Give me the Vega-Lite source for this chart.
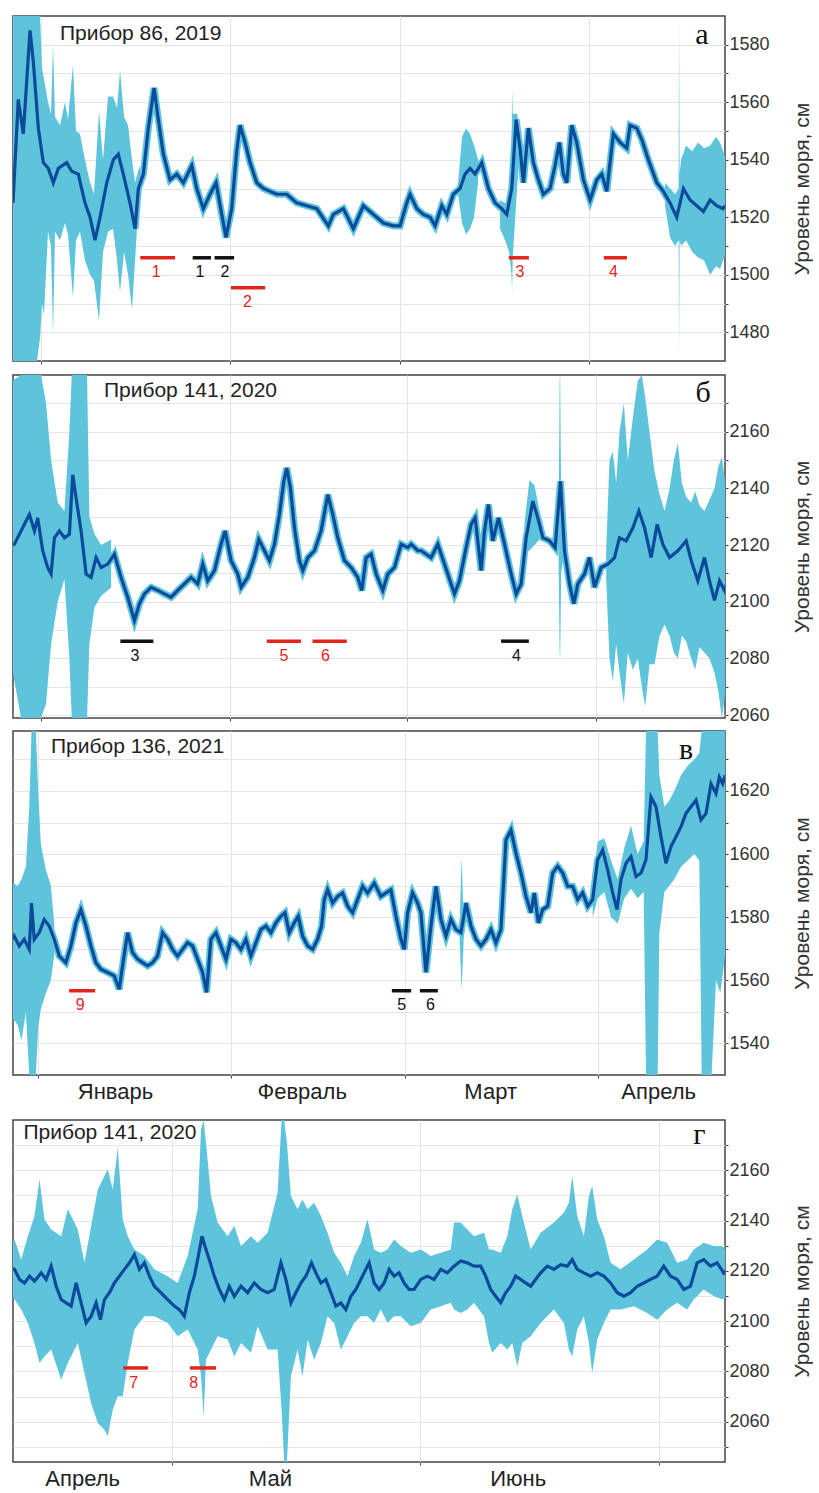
{
"$schema": "https://vega.github.io/schema/vega-lite/v6.json",
"padding": {"left": 12, "top": 15, "right": 0, "bottom": 0},
"config": {
  "font": "Liberation Sans",
  "view": {"stroke": "#444444", "strokeWidth": 1.5},
  "axis": {"domain": false, "gridColor": "#e4e4e4", "gridWidth": 1, "tickColor": "#444444", "tickSize": 3, "tickWidth": 1, "labelColor": "#333333", "labelFont": "Liberation Sans", "titleFont": "Liberation Sans", "titleFontWeight": "normal", "titleColor": "#333333", "labelFlush": false, "labelOverlap": false, "labelFontSize": 18, "labelPadding": 1, "titleFontSize": 21, "titleAngle": 270, "titleBaseline": "top", "titlePadding": 22}
},
"datasets": {
"a_mid": [{"d":-4.6,"v":1525},{"d":-3.73,"v":1561},{"d":-2.91,"v":1549},{"d":-1.81,"v":1585},{"d":-1.26,"v":1574},{"d":-0.44,"v":1551},{"d":0.38,"v":1539},{"d":1.2,"v":1537},{"d":2.02,"v":1532},{"d":2.84,"v":1537},{"d":4.22,"v":1539},{"d":5.04,"v":1536},{"d":6.12,"v":1535},{"d":7.22,"v":1525},{"d":8.05,"v":1520},{"d":8.87,"v":1512},{"d":9.69,"v":1520},{"d":10.79,"v":1532},{"d":11.87,"v":1540},{"d":12.69,"v":1542},{"d":13.51,"v":1535},{"d":14.61,"v":1525},{"d":15.44,"v":1516},{"d":15.98,"v":1530},{"d":16.8,"v":1535},{"d":17.62,"v":1551},{"d":18.56,"v":1565},{"d":19.26,"v":1554},{"d":20.08,"v":1542},{"d":21.18,"v":1533},{"d":22.28,"v":1535},{"d":23.37,"v":1532},{"d":24.75,"v":1538},{"d":25.57,"v":1530},{"d":26.65,"v":1523},{"d":27.75,"v":1528},{"d":28.74,"v":1532},{"d":29.67,"v":1521},{"d":30.38,"v":1513},{"d":31.31,"v":1523},{"d":32.13,"v":1543},{"d":32.68,"v":1552},{"d":33.5,"v":1546},{"d":34.32,"v":1539},{"d":35.42,"v":1532},{"d":36.5,"v":1530},{"d":37.6,"v":1529},{"d":38.7,"v":1528},{"d":40.34,"v":1528},{"d":41.99,"v":1525},{"d":43.63,"v":1524},{"d":45.27,"v":1523},{"d":47.18,"v":1517},{"d":48.0,"v":1521},{"d":49.64,"v":1523},{"d":51.28,"v":1516},{"d":52.92,"v":1524},{"d":54.56,"v":1521},{"d":56.21,"v":1518},{"d":57.85,"v":1517},{"d":58.95,"v":1517},{"d":60.05,"v":1525},{"d":60.59,"v":1528},{"d":61.69,"v":1523},{"d":62.77,"v":1521},{"d":63.88,"v":1520},{"d":64.7,"v":1517},{"d":65.8,"v":1524},{"d":66.62,"v":1521},{"d":67.7,"v":1528},{"d":68.8,"v":1530},{"d":69.62,"v":1535},{"d":70.44,"v":1537},{"d":71.26,"v":1535},{"d":72.36,"v":1539},{"d":73.45,"v":1530},{"d":74.55,"v":1525},{"d":75.65,"v":1523},{"d":76.47,"v":1521},{"d":77.29,"v":1530},{"d":78.0,"v":1554},{"d":78.65,"v":1544},{"d":79.2,"v":1532},{"d":80.02,"v":1551},{"d":80.84,"v":1539},{"d":81.66,"v":1533},{"d":82.48,"v":1528},{"d":83.58,"v":1530},{"d":84.4,"v":1538},{"d":85.11,"v":1546},{"d":85.76,"v":1535},{"d":86.32,"v":1532},{"d":87.14,"v":1552},{"d":87.96,"v":1546},{"d":89.05,"v":1533},{"d":90.15,"v":1526},{"d":91.25,"v":1533},{"d":92.07,"v":1535},{"d":92.89,"v":1529},{"d":93.97,"v":1549},{"d":95.07,"v":1546},{"d":96.17,"v":1544},{"d":96.72,"v":1552},{"d":97.82,"v":1551},{"d":98.64,"v":1547},{"d":99.72,"v":1540},{"d":101.1,"v":1532},{"d":102.18,"v":1529},{"d":103.28,"v":1525},{"d":104.38,"v":1520},{"d":105.47,"v":1530},{"d":106.57,"v":1526},{"d":107.67,"v":1524},{"d":108.75,"v":1522},{"d":109.85,"v":1526},{"d":110.95,"v":1524},{"d":111.94,"v":1523},{"d":112.3,"v":1524}],
"a_env": [{"g":1,"d":-4.8,"v":1470,"v2":1590},{"g":1,"d":-0.66,"v":1470,"v2":1590},{"g":1,"d":-0.16,"v":1478,"v2":1590},{"g":1,"d":0.16,"v":1490,"v2":1572},{"g":1,"d":0.49,"v":1486,"v2":1568},{"g":1,"d":1.15,"v":1515,"v2":1560},{"g":1,"d":1.64,"v":1510,"v2":1556},{"g":1,"d":1.97,"v":1479,"v2":1580},{"g":1,"d":2.3,"v":1515,"v2":1555},{"g":1,"d":3.12,"v":1512,"v2":1552},{"g":1,"d":3.94,"v":1518,"v2":1560},{"g":1,"d":4.43,"v":1514,"v2":1554},{"g":1,"d":5.25,"v":1492,"v2":1573},{"g":1,"d":5.75,"v":1512,"v2":1550},{"g":1,"d":6.4,"v":1515,"v2":1549},{"g":1,"d":7.22,"v":1505,"v2":1540},{"g":1,"d":8.05,"v":1500,"v2":1532},{"g":1,"d":8.7,"v":1498,"v2":1528},{"g":1,"d":9.52,"v":1484,"v2":1557},{"g":1,"d":10.18,"v":1508,"v2":1540},{"g":1,"d":11.0,"v":1515,"v2":1562},{"g":1,"d":11.82,"v":1516,"v2":1562},{"g":1,"d":12.48,"v":1505,"v2":1558},{"g":1,"d":12.97,"v":1494,"v2":1571},{"g":1,"d":13.63,"v":1508,"v2":1555},{"g":1,"d":14.29,"v":1500,"v2":1552},{"g":1,"d":14.94,"v":1488,"v2":1540},{"g":1,"d":15.44,"v":1505,"v2":1532},{"g":1,"d":15.93,"v":1522,"v2":1536},{"g":1,"d":16.26,"v":1528,"v2":1538},
{"g":2,"d":68.47,"v":1528,"v2":1532},{"g":2,"d":69.13,"v":1518,"v2":1548},{"g":2,"d":69.79,"v":1514,"v2":1551},{"g":2,"d":70.44,"v":1516,"v2":1549},{"g":2,"d":71.1,"v":1520,"v2":1545},{"g":2,"d":71.76,"v":1532,"v2":1540},
{"g":3,"d":75.37,"v":1516,"v2":1526},{"g":3,"d":76.19,"v":1512,"v2":1525},{"g":3,"d":76.85,"v":1508,"v2":1526},{"g":3,"d":77.25,"v":1500,"v2":1540},{"g":3,"d":77.34,"v":1494,"v2":1565},{"g":3,"d":77.45,"v":1506,"v2":1556},{"g":3,"d":78.16,"v":1530,"v2":1556},{"g":3,"d":78.5,"v":1540,"v2":1552},
{"g":4,"d":102.46,"v":1524,"v2":1532},{"g":4,"d":103.28,"v":1513,"v2":1530},{"g":4,"d":104.1,"v":1510,"v2":1528},{"g":4,"d":104.68,"v":1512,"v2":1530},{"g":4,"d":104.76,"v":1473,"v2":1589},{"g":4,"d":104.84,"v":1512,"v2":1535},{"g":4,"d":105.09,"v":1510,"v2":1540},{"g":4,"d":105.9,"v":1512,"v2":1545},{"g":4,"d":106.9,"v":1508,"v2":1543},{"g":4,"d":107.88,"v":1506,"v2":1546},{"g":4,"d":108.87,"v":1505,"v2":1544},{"g":4,"d":109.85,"v":1500,"v2":1545},{"g":4,"d":110.84,"v":1503,"v2":1548},{"g":4,"d":111.49,"v":1502,"v2":1546},{"g":4,"d":112.5,"v":1508,"v2":1540}],
"a_seg": [{"d":16.3,"d2":22.0,"v":1505.9,"c":"r"},{"d":24.9,"d2":27.9,"v":1505.9,"c":"k"},{"d":28.5,"d2":31.7,"v":1505.9,"c":"k"},{"d":31.2,"d2":36.8,"v":1495.5,"c":"r"},{"d":76.8,"d2":80.1,"v":1505.9,"c":"r"},{"d":92.4,"d2":96.2,"v":1505.9,"c":"r"}],
"a_lab": [{"d":18.9,"v":1505.9,"t":"1","c":"r"},{"d":26.1,"v":1505.9,"t":"1","c":"k"},{"d":30.2,"v":1505.9,"t":"2","c":"k"},{"d":33.9,"v":1495.5,"t":"2","c":"r"},{"d":78.65,"v":1505.9,"t":"3","c":"r"},{"d":94.0,"v":1505.9,"t":"4","c":"r"}],
"b_mid": [{"d":-4.6,"v":2120},{"d":-4.37,"v":2120.3},{"d":-3.55,"v":2123.8},{"d":-2.46,"v":2128.5},{"d":-1.91,"v":2130.8},{"d":-1.09,"v":2125},{"d":-0.55,"v":2129.6},{"d":0.27,"v":2118},{"d":1.09,"v":2112},{"d":1.64,"v":2109.8},{"d":2.19,"v":2122.6},{"d":3.0,"v":2125},{"d":3.83,"v":2122.6},{"d":4.64,"v":2123.8},{"d":5.19,"v":2144.8},{"d":5.74,"v":2136.6},{"d":6.56,"v":2125},{"d":7.38,"v":2109.8},{"d":8.2,"v":2108.6},{"d":9.02,"v":2115.6},{"d":9.84,"v":2112.1},{"d":10.93,"v":2113.3},{"d":12.02,"v":2116.8},{"d":13.11,"v":2108.6},{"d":14.2,"v":2101.6},{"d":15.3,"v":2093.4},{"d":16.12,"v":2099.3},{"d":16.94,"v":2102.8},{"d":18.03,"v":2105.1},{"d":19.13,"v":2104},{"d":20.22,"v":2102.8},{"d":21.31,"v":2101.6},{"d":22.4,"v":2104},{"d":23.5,"v":2106.3},{"d":24.59,"v":2108.6},{"d":25.68,"v":2106.3},{"d":26.5,"v":2113.3},{"d":27.32,"v":2107.4},{"d":28.42,"v":2111},{"d":29.5,"v":2120.3},{"d":30.16,"v":2125},{"d":31.15,"v":2114.5},{"d":32.24,"v":2109.8},{"d":32.79,"v":2105.1},{"d":33.88,"v":2108.6},{"d":34.97,"v":2115.6},{"d":35.68,"v":2122},{"d":36.61,"v":2118},{"d":37.43,"v":2114.5},{"d":38.25,"v":2120.3},{"d":39.07,"v":2130.8},{"d":39.78,"v":2142.5},{"d":40.27,"v":2147.2},{"d":40.87,"v":2140.2},{"d":41.53,"v":2126.1},{"d":42.35,"v":2114.5},{"d":42.9,"v":2111},{"d":43.72,"v":2115.6},{"d":44.81,"v":2118},{"d":45.9,"v":2125},{"d":47.0,"v":2137.8},{"d":47.81,"v":2130.8},{"d":48.63,"v":2122.6},{"d":49.73,"v":2114.5},{"d":50.82,"v":2112.1},{"d":51.91,"v":2108.6},{"d":52.57,"v":2104},{"d":53.28,"v":2115.6},{"d":54.1,"v":2116.8},{"d":54.92,"v":2109.8},{"d":56.01,"v":2104},{"d":56.83,"v":2109.8},{"d":57.92,"v":2112.1},{"d":59.02,"v":2120.3},{"d":60.11,"v":2119.1},{"d":60.66,"v":2120.3},{"d":61.75,"v":2118},{"d":62.3,"v":2118},{"d":63.93,"v":2115.6},{"d":65.03,"v":2120.3},{"d":66.12,"v":2113.3},{"d":67.21,"v":2106.3},{"d":67.76,"v":2102.8},{"d":68.58,"v":2107.4},{"d":69.67,"v":2119.1},{"d":70.49,"v":2127.3},{"d":71.15,"v":2129.6},{"d":72.13,"v":2111},{"d":72.68,"v":2125},{"d":73.33,"v":2134.3},{"d":74.04,"v":2121.5},{"d":74.97,"v":2129.6},{"d":75.96,"v":2120.3},{"d":77.05,"v":2109.8},{"d":77.87,"v":2102.8},{"d":78.69,"v":2106.3},{"d":79.51,"v":2122.6},{"d":80.6,"v":2135.5},{"d":81.42,"v":2129.6},{"d":82.24,"v":2122.6},{"d":83.33,"v":2121.5},{"d":84.26,"v":2119.1},{"d":85.14,"v":2142.5},{"d":85.79,"v":2118},{"d":86.61,"v":2106.3},{"d":87.32,"v":2099.3},{"d":87.98,"v":2106.3},{"d":89.07,"v":2109.8},{"d":89.89,"v":2115.6},{"d":90.71,"v":2105.1},{"d":91.8,"v":2112.1},{"d":92.9,"v":2113.3},{"d":93.99,"v":2115.6},{"d":94.81,"v":2122.6},{"d":95.9,"v":2121.5},{"d":97.0,"v":2126.1},{"d":97.98,"v":2132},{"d":98.91,"v":2126.1},{"d":100.0,"v":2115.6},{"d":100.98,"v":2127.3},{"d":101.91,"v":2120.3},{"d":103.01,"v":2115.6},{"d":104.37,"v":2118},{"d":105.74,"v":2121.5},{"d":106.56,"v":2114.5},{"d":107.65,"v":2107.4},{"d":108.74,"v":2115.6},{"d":109.56,"v":2107.4},{"d":110.38,"v":2100.5},{"d":111.2,"v":2107.4},{"d":112.02,"v":2104},{"d":112.3,"v":2106}],
"b_env": [{"g":1,"d":-4.7,"v":2076,"v2":2178},{"g":1,"d":-3.28,"v":2059,"v2":2180},{"g":1,"d":0,"v":2059,"v2":2180},{"g":1,"d":0.82,"v":2064,"v2":2170},{"g":1,"d":1.64,"v":2085,"v2":2150},{"g":1,"d":2.73,"v":2100,"v2":2135},{"g":1,"d":3.83,"v":2108,"v2":2132},{"g":1,"d":4.64,"v":2080,"v2":2160},{"g":1,"d":5.03,"v":2059,"v2":2180},{"g":1,"d":7.54,"v":2059,"v2":2180},{"g":1,"d":7.92,"v":2085,"v2":2130},{"g":1,"d":8.74,"v":2098,"v2":2124},{"g":1,"d":9.84,"v":2102,"v2":2120},{"g":1,"d":11.48,"v":2105,"v2":2122},
{"g":2,"d":79.24,"v":2118,"v2":2128},{"g":2,"d":80.05,"v":2118,"v2":2143},{"g":2,"d":80.87,"v":2120,"v2":2141},{"g":2,"d":81.69,"v":2122,"v2":2132},
{"g":3,"d":84.81,"v":2117,"v2":2123},{"g":3,"d":85.0,"v":2082,"v2":2178},{"g":3,"d":85.08,"v":2080,"v2":2180},{"g":3,"d":85.25,"v":2110,"v2":2135},{"g":3,"d":85.57,"v":2115,"v2":2122},
{"g":4,"d":92.62,"v":2108,"v2":2118},{"g":4,"d":93.17,"v":2080,"v2":2150},{"g":4,"d":93.72,"v":2072,"v2":2153},{"g":4,"d":94.26,"v":2085,"v2":2142},{"g":4,"d":94.81,"v":2075,"v2":2160},{"g":4,"d":95.52,"v":2064,"v2":2170},{"g":4,"d":96.17,"v":2082,"v2":2150},{"g":4,"d":97.0,"v":2076,"v2":2165},{"g":4,"d":97.81,"v":2080,"v2":2178},{"g":4,"d":98.47,"v":2070,"v2":2180},{"g":4,"d":99.02,"v":2063,"v2":2172},{"g":4,"d":99.73,"v":2078,"v2":2160},{"g":4,"d":100.55,"v":2078,"v2":2146},{"g":4,"d":101.37,"v":2088,"v2":2138},{"g":4,"d":102.19,"v":2092,"v2":2132},{"g":4,"d":103.01,"v":2088,"v2":2140},{"g":4,"d":103.72,"v":2082,"v2":2150},{"g":4,"d":104.37,"v":2080,"v2":2156},{"g":4,"d":105.03,"v":2088,"v2":2142},{"g":4,"d":105.74,"v":2086,"v2":2137},{"g":4,"d":106.56,"v":2080,"v2":2135},{"g":4,"d":107.21,"v":2076,"v2":2139},{"g":4,"d":107.92,"v":2084,"v2":2134},{"g":4,"d":108.74,"v":2082,"v2":2132},{"g":4,"d":109.56,"v":2080,"v2":2136},{"g":4,"d":110.38,"v":2075,"v2":2140},{"g":4,"d":111.04,"v":2068,"v2":2148},{"g":4,"d":111.58,"v":2059,"v2":2151},{"g":4,"d":112.3,"v":2070,"v2":2140}],
"b_seg": [{"d":13.0,"d2":18.4,"v":2086.1,"c":"k"},{"d":37.0,"d2":42.6,"v":2086.1,"c":"r"},{"d":44.5,"d2":50.1,"v":2086.1,"c":"r"},{"d":75.4,"d2":79.95,"v":2086.1,"c":"k"}],
"b_lab": [{"d":15.4,"v":2086.1,"t":"3","c":"k"},{"d":39.8,"v":2086.1,"t":"5","c":"r"},{"d":46.6,"v":2086.1,"t":"6","c":"r"},{"d":77.9,"v":2086.1,"t":"4","c":"k"}],
"c_mid": [{"d":-4.0,"v":1573},{"d":-3.8,"v":1574},{"d":-3.0,"v":1570.9},{"d":-2.2,"v":1573},{"d":-1.39,"v":1569.8},{"d":-1.02,"v":1584.5},{"d":-0.59,"v":1573},{"d":0.21,"v":1575.1},{"d":1.02,"v":1579.3},{"d":1.82,"v":1577.2},{"d":2.63,"v":1573},{"d":3.43,"v":1567.7},{"d":4.5,"v":1565.6},{"d":5.31,"v":1570.9},{"d":6.11,"v":1578.2},{"d":6.91,"v":1582.4},{"d":7.72,"v":1577.2},{"d":8.52,"v":1570.9},{"d":9.32,"v":1565.6},{"d":10.13,"v":1563.5},{"d":11.2,"v":1562.5},{"d":12.27,"v":1561.4},{"d":13.08,"v":1557.2},{"d":13.61,"v":1564.6},{"d":14.42,"v":1575.1},{"d":15.22,"v":1568.8},{"d":16.02,"v":1566.7},{"d":16.83,"v":1565.6},{"d":17.63,"v":1564.6},{"d":18.44,"v":1565.6},{"d":19.24,"v":1567.7},{"d":20.04,"v":1575.1},{"d":20.85,"v":1573},{"d":21.65,"v":1569.8},{"d":22.45,"v":1567.7},{"d":23.26,"v":1569.8},{"d":24.06,"v":1571.9},{"d":24.86,"v":1570.9},{"d":25.67,"v":1566.7},{"d":26.47,"v":1562.5},{"d":27.12,"v":1556.2},{"d":27.81,"v":1573},{"d":28.62,"v":1575.1},{"d":29.42,"v":1570.9},{"d":30.23,"v":1566.7},{"d":31.03,"v":1573},{"d":31.83,"v":1571.9},{"d":32.64,"v":1569.8},{"d":33.44,"v":1573},{"d":34.24,"v":1567.7},{"d":35.05,"v":1571.9},{"d":35.85,"v":1576.1},{"d":36.65,"v":1577.2},{"d":37.46,"v":1575.1},{"d":38.26,"v":1578.2},{"d":39.07,"v":1580.3},{"d":39.71,"v":1581.4},{"d":40.41,"v":1575.1},{"d":41.21,"v":1578.2},{"d":41.86,"v":1580.3},{"d":42.55,"v":1574},{"d":43.36,"v":1570.9},{"d":44.16,"v":1569.8},{"d":44.96,"v":1573},{"d":45.61,"v":1577.2},{"d":46.03,"v":1585.6},{"d":46.57,"v":1588.7},{"d":47.37,"v":1584.5},{"d":48.18,"v":1586.6},{"d":48.98,"v":1587.7},{"d":49.79,"v":1583.5},{"d":50.59,"v":1581.4},{"d":51.39,"v":1585.6},{"d":52.2,"v":1589.8},{"d":53.0,"v":1587.7},{"d":54.07,"v":1590.8},{"d":55.14,"v":1586.6},{"d":55.95,"v":1587.7},{"d":56.75,"v":1588.7},{"d":57.56,"v":1580.3},{"d":58.36,"v":1573},{"d":58.9,"v":1569.8},{"d":59.43,"v":1581.4},{"d":60.23,"v":1587.7},{"d":61.04,"v":1584.5},{"d":61.57,"v":1581.4},{"d":62.38,"v":1562.5},{"d":63.18,"v":1577.2},{"d":63.99,"v":1589.8},{"d":64.79,"v":1579.3},{"d":65.6,"v":1574},{"d":66.4,"v":1579.3},{"d":67.2,"v":1576.1},{"d":68.01,"v":1575.1},{"d":68.81,"v":1584.5},{"d":69.62,"v":1577.2},{"d":70.42,"v":1573},{"d":71.22,"v":1570.9},{"d":72.03,"v":1573},{"d":72.83,"v":1576.1},{"d":73.63,"v":1571.9},{"d":74.44,"v":1576.1},{"d":75.24,"v":1604.5},{"d":76.05,"v":1607.6},{"d":76.85,"v":1600.3},{"d":77.65,"v":1594},{"d":78.46,"v":1586.6},{"d":79.26,"v":1581.4},{"d":79.8,"v":1587.7},{"d":80.44,"v":1578.2},{"d":81.14,"v":1582.4},{"d":81.95,"v":1583.5},{"d":82.75,"v":1594},{"d":83.55,"v":1596.1},{"d":84.36,"v":1594},{"d":85.16,"v":1589.8},{"d":85.96,"v":1589.8},{"d":86.77,"v":1585.6},{"d":87.57,"v":1587.7},{"d":88.38,"v":1583.5},{"d":89.18,"v":1585.6},{"d":89.98,"v":1598.2},{"d":90.79,"v":1601.3},{"d":91.59,"v":1595},{"d":92.4,"v":1587.7},{"d":93.09,"v":1582.4},{"d":93.73,"v":1591.9},{"d":94.54,"v":1597.1},{"d":95.34,"v":1599.2},{"d":96.14,"v":1592.9},{"d":96.95,"v":1594},{"d":97.75,"v":1598.2},{"d":98.55,"v":1618.1},{"d":99.36,"v":1615},{"d":100.16,"v":1605.5},{"d":100.96,"v":1597.1},{"d":101.77,"v":1602.4},{"d":102.57,"v":1605.5},{"d":103.38,"v":1608.7},{"d":104.18,"v":1612.9},{"d":104.98,"v":1615},{"d":105.79,"v":1617.1},{"d":106.59,"v":1610.8},{"d":107.4,"v":1612.9},{"d":108.2,"v":1622.3},{"d":109.0,"v":1619.2},{"d":109.54,"v":1624.4},{"d":110.07,"v":1622.3},{"d":110.5,"v":1625}],
"c_env": [{"g":1,"d":-4.1,"v":1548,"v2":1591},{"g":1,"d":-3.27,"v":1546,"v2":1590},{"g":1,"d":-2.63,"v":1541,"v2":1592},{"g":1,"d":-1.93,"v":1550,"v2":1596},{"g":1,"d":-1.39,"v":1530,"v2":1615},{"g":1,"d":-1.02,"v":1530,"v2":1639},{"g":1,"d":-0.32,"v":1530,"v2":1639},{"g":1,"d":0.05,"v":1545,"v2":1620},{"g":1,"d":0.48,"v":1551,"v2":1603},{"g":1,"d":1.29,"v":1556,"v2":1595},{"g":1,"d":2.09,"v":1560,"v2":1590},{"g":1,"d":2.63,"v":1568,"v2":1578},
{"g":2,"d":67.79,"v":1573,"v2":1578},{"g":2,"d":68.11,"v":1557,"v2":1599},{"g":2,"d":68.43,"v":1572,"v2":1580},
{"g":3,"d":89.18,"v":1580,"v2":1590},{"g":3,"d":89.98,"v":1586,"v2":1604},{"g":3,"d":91.05,"v":1588,"v2":1605},{"g":3,"d":92.13,"v":1580,"v2":1598},{"g":3,"d":93.2,"v":1578,"v2":1592},{"g":3,"d":94.27,"v":1586,"v2":1602},{"g":3,"d":95.34,"v":1589,"v2":1609},{"g":3,"d":96.41,"v":1586,"v2":1600},{"g":3,"d":97.38,"v":1588,"v2":1604},{"g":3,"d":97.75,"v":1530,"v2":1639},{"g":3,"d":99.63,"v":1530,"v2":1639},{"g":3,"d":99.9,"v":1575,"v2":1625},{"g":3,"d":100.7,"v":1588,"v2":1615},{"g":3,"d":101.5,"v":1590,"v2":1617},{"g":3,"d":102.3,"v":1592,"v2":1620},{"g":3,"d":103.38,"v":1596,"v2":1625},{"g":3,"d":104.45,"v":1598,"v2":1628},{"g":3,"d":105.52,"v":1600,"v2":1630},{"g":3,"d":106.32,"v":1598,"v2":1632},{"g":3,"d":106.7,"v":1530,"v2":1639},{"g":3,"d":108.3,"v":1530,"v2":1639},{"g":3,"d":109.0,"v":1560,"v2":1639},{"g":3,"d":109.7,"v":1556,"v2":1639},{"g":3,"d":110.6,"v":1570,"v2":1639}],
"c_seg": [{"d":5.03,"d2":9.21,"v":1556.7,"c":"r"},{"d":56.9,"d2":60.0,"v":1556.7,"c":"k"},{"d":61.4,"d2":64.3,"v":1556.7,"c":"k"}],
"c_lab": [{"d":6.8,"v":1556.7,"t":"9","c":"r"},{"d":58.5,"v":1556.7,"t":"5","c":"k"},{"d":63.1,"v":1556.7,"t":"6","c":"k"}],
"d_mid": [{"d":101.1,"v":2121},{"d":101.29,"v":2120.6},{"d":101.92,"v":2116.6},{"d":102.54,"v":2115.2},{"d":103.17,"v":2117.9},{"d":103.79,"v":2115.9},{"d":104.63,"v":2119.2},{"d":105.25,"v":2116.6},{"d":105.88,"v":2121.9},{"d":106.5,"v":2113.9},{"d":107.13,"v":2108.6},{"d":107.75,"v":2107.3},{"d":108.38,"v":2106},{"d":109.0,"v":2115.2},{"d":109.63,"v":2107.3},{"d":110.25,"v":2099.3},{"d":110.88,"v":2102},{"d":111.5,"v":2107.3},{"d":112.04,"v":2100.6},{"d":112.54,"v":2108.6},{"d":113.17,"v":2111.3},{"d":113.79,"v":2115.2},{"d":114.42,"v":2117.9},{"d":115.04,"v":2120.6},{"d":115.67,"v":2123.2},{"d":116.29,"v":2126.5},{"d":116.92,"v":2120.6},{"d":117.54,"v":2123.2},{"d":118.17,"v":2117.9},{"d":118.79,"v":2113.9},{"d":119.63,"v":2111.3},{"d":120.46,"v":2108.6},{"d":121.29,"v":2106},{"d":121.92,"v":2104.6},{"d":122.54,"v":2102},{"d":123.17,"v":2111.3},{"d":123.79,"v":2117.9},{"d":124.29,"v":2125.9},{"d":124.75,"v":2133.8},{"d":125.25,"v":2128.5},{"d":125.79,"v":2123.2},{"d":126.29,"v":2117.9},{"d":126.92,"v":2112.6},{"d":127.54,"v":2108.6},{"d":128.17,"v":2113.9},{"d":128.79,"v":2109.9},{"d":129.63,"v":2113.9},{"d":130.46,"v":2111.3},{"d":131.29,"v":2115.2},{"d":132.13,"v":2112.6},{"d":132.96,"v":2111.3},{"d":133.79,"v":2112.6},{"d":134.63,"v":2123.2},{"d":135.25,"v":2116.6},{"d":135.88,"v":2107.3},{"d":136.5,"v":2111.3},{"d":137.13,"v":2115.2},{"d":137.75,"v":2117.9},{"d":138.46,"v":2123.2},{"d":139.0,"v":2119.2},{"d":139.63,"v":2115.2},{"d":140.25,"v":2116.6},{"d":140.88,"v":2111.3},{"d":141.5,"v":2106},{"d":142.13,"v":2107.3},{"d":142.75,"v":2104.6},{"d":143.38,"v":2109.9},{"d":144.0,"v":2112.6},{"d":144.63,"v":2116.6},{"d":145.25,"v":2120.6},{"d":145.67,"v":2123.2},{"d":146.29,"v":2115.2},{"d":146.92,"v":2112.6},{"d":147.54,"v":2115.2},{"d":148.17,"v":2120.6},{"d":148.79,"v":2117.9},{"d":149.42,"v":2119.2},{"d":150.04,"v":2115.2},{"d":150.67,"v":2112.6},{"d":151.29,"v":2112.6},{"d":152.13,"v":2116.6},{"d":152.96,"v":2117.9},{"d":153.79,"v":2116.6},{"d":154.63,"v":2120.6},{"d":155.46,"v":2119.2},{"d":156.29,"v":2121.9},{"d":157.13,"v":2123.9},{"d":157.96,"v":2123.2},{"d":158.79,"v":2121.9},{"d":159.63,"v":2121.9},{"d":160.25,"v":2117.9},{"d":160.88,"v":2112.6},{"d":161.5,"v":2109.9},{"d":162.13,"v":2107.3},{"d":162.75,"v":2111.3},{"d":163.38,"v":2113.9},{"d":164.0,"v":2117.9},{"d":164.63,"v":2116.6},{"d":165.25,"v":2115.2},{"d":165.88,"v":2113.9},{"d":166.5,"v":2116.6},{"d":167.13,"v":2119.2},{"d":167.96,"v":2121.9},{"d":168.79,"v":2120.6},{"d":169.63,"v":2122.5},{"d":170.46,"v":2121.9},{"d":171.08,"v":2124.5},{"d":171.71,"v":2120.6},{"d":172.54,"v":2119.2},{"d":173.38,"v":2117.9},{"d":174.21,"v":2119.2},{"d":175.04,"v":2117.9},{"d":175.88,"v":2115.2},{"d":176.71,"v":2111.3},{"d":177.54,"v":2109.9},{"d":178.38,"v":2111.3},{"d":179.21,"v":2113.9},{"d":180.04,"v":2115.2},{"d":180.88,"v":2116.6},{"d":181.71,"v":2117.9},{"d":182.54,"v":2121.9},{"d":183.38,"v":2117.9},{"d":184.21,"v":2116.6},{"d":185.04,"v":2112.6},{"d":185.88,"v":2113.9},{"d":186.71,"v":2123.2},{"d":187.54,"v":2124.5},{"d":188.38,"v":2121.9},{"d":189.21,"v":2123.2},{"d":190.04,"v":2119.2},{"d":190.3,"v":2120}],
"d_env": [{"g":1,"d":101.0,"v":2110,"v2":2132},{"g":1,"d":101.29,"v":2108.6,"v2":2132.5},{"g":1,"d":102.13,"v":2104.6,"v2":2124.5},{"g":1,"d":102.96,"v":2099.3,"v2":2133.8},{"g":1,"d":103.79,"v":2091.3,"v2":2141.8},{"g":1,"d":104.42,"v":2083.4,"v2":2156.4},{"g":1,"d":105.04,"v":2086,"v2":2140.5},{"g":1,"d":105.88,"v":2088.7,"v2":2136.5},{"g":1,"d":107.13,"v":2076.7,"v2":2133.8},{"g":1,"d":107.96,"v":2083.4,"v2":2144.5},{"g":1,"d":109.21,"v":2091.3,"v2":2136.5},{"g":1,"d":110.04,"v":2079.4,"v2":2123.2},{"g":1,"d":110.88,"v":2067.4,"v2":2137.8},{"g":1,"d":111.71,"v":2059.5,"v2":2152.4},{"g":1,"d":112.54,"v":2056.8,"v2":2157.7},{"g":1,"d":112.96,"v":2054.2,"v2":2160.4},{"g":1,"d":113.58,"v":2064.8,"v2":2152.4},{"g":1,"d":114.21,"v":2070.1,"v2":2169},{"g":1,"d":114.83,"v":2070.1,"v2":2140.5},{"g":1,"d":115.46,"v":2083.4,"v2":2133.8},{"g":1,"d":116.29,"v":2096.7,"v2":2128.5},{"g":1,"d":117.54,"v":2102,"v2":2125.9},{"g":1,"d":118.79,"v":2102,"v2":2120.6},{"g":1,"d":120.46,"v":2099.3,"v2":2117.9},{"g":1,"d":121.71,"v":2094,"v2":2115.2},{"g":1,"d":122.96,"v":2096.7,"v2":2125.9},{"g":1,"d":124.21,"v":2088.7,"v2":2144.5},{"g":1,"d":124.63,"v":2078.1,"v2":2176.3},{"g":1,"d":124.96,"v":2062.1,"v2":2180},{"g":1,"d":125.25,"v":2084.7,"v2":2171},{"g":1,"d":125.88,"v":2088.7,"v2":2149.8},{"g":1,"d":126.71,"v":2094,"v2":2139.2},{"g":1,"d":127.96,"v":2092.7,"v2":2133.8},{"g":1,"d":128.79,"v":2086,"v2":2137.8},{"g":1,"d":129.63,"v":2091.3,"v2":2129.9},{"g":1,"d":130.88,"v":2087.4,"v2":2133.8},{"g":1,"d":131.71,"v":2098,"v2":2131.2},{"g":1,"d":132.96,"v":2088.7,"v2":2135.2},{"g":1,"d":134.21,"v":2088.7,"v2":2151.1},{"g":1,"d":134.71,"v":2064.8,"v2":2180},{"g":1,"d":135.04,"v":2044,"v2":2180},{"g":1,"d":135.38,"v":2044,"v2":2171},{"g":1,"d":135.88,"v":2078.1,"v2":2149.8},{"g":1,"d":136.71,"v":2088.7,"v2":2144.5},{"g":1,"d":137.33,"v":2078.1,"v2":2148.4},{"g":1,"d":137.96,"v":2092.7,"v2":2144.5},{"g":1,"d":138.79,"v":2084.7,"v2":2147.1},{"g":1,"d":139.63,"v":2091.3,"v2":2141.8},{"g":1,"d":140.46,"v":2102,"v2":2135.2},{"g":1,"d":141.29,"v":2099.3,"v2":2127.2},{"g":1,"d":142.13,"v":2088.7,"v2":2123.2},{"g":1,"d":142.96,"v":2094,"v2":2117.9},{"g":1,"d":143.79,"v":2099.3,"v2":2125.9},{"g":1,"d":144.63,"v":2102,"v2":2131.2},{"g":1,"d":145.46,"v":2102,"v2":2140.5},{"g":1,"d":146.29,"v":2099.3,"v2":2128.5},{"g":1,"d":147.13,"v":2104.6,"v2":2127.2},{"g":1,"d":147.96,"v":2099.3,"v2":2128.5},{"g":1,"d":148.79,"v":2102,"v2":2132.5},{"g":1,"d":149.63,"v":2102,"v2":2129.9},{"g":1,"d":150.88,"v":2098,"v2":2127.2},{"g":1,"d":152.13,"v":2099.3,"v2":2128.5},{"g":1,"d":153.38,"v":2104.6,"v2":2125.9},{"g":1,"d":154.63,"v":2105.9,"v2":2127.2},{"g":1,"d":155.88,"v":2107.3,"v2":2128.5},{"g":1,"d":156.29,"v":2104.6,"v2":2139.2},{"g":1,"d":157.13,"v":2103.3,"v2":2139.2},{"g":1,"d":157.96,"v":2104.6,"v2":2136.5},{"g":1,"d":158.79,"v":2107.3,"v2":2133.8},{"g":1,"d":160.04,"v":2102,"v2":2135.2},{"g":1,"d":160.67,"v":2091.3,"v2":2128.5},{"g":1,"d":161.08,"v":2087.4,"v2":2128.5},{"g":1,"d":162.13,"v":2091.3,"v2":2127.2},{"g":1,"d":162.96,"v":2088.7,"v2":2133.8},{"g":1,"d":163.58,"v":2091.3,"v2":2144.5},{"g":1,"d":164.21,"v":2082,"v2":2150.4},{"g":1,"d":164.83,"v":2091.3,"v2":2141.8},{"g":1,"d":165.88,"v":2094,"v2":2128.5},{"g":1,"d":167.13,"v":2099.3,"v2":2135.2},{"g":1,"d":168.79,"v":2104.6,"v2":2139.2},{"g":1,"d":170.04,"v":2099.3,"v2":2143.1},{"g":1,"d":170.67,"v":2088.7,"v2":2147.1},{"g":1,"d":171.08,"v":2086,"v2":2157.7},{"g":1,"d":171.71,"v":2096.7,"v2":2141.8},{"g":1,"d":172.54,"v":2102,"v2":2133.8},{"g":1,"d":173.17,"v":2091.3,"v2":2149.8},{"g":1,"d":173.58,"v":2079.4,"v2":2153.8},{"g":1,"d":174.21,"v":2092.7,"v2":2140.5},{"g":1,"d":175.04,"v":2099.3,"v2":2133.8},{"g":1,"d":175.88,"v":2104.6,"v2":2123.2},{"g":1,"d":177.13,"v":2104.6,"v2":2120.6},{"g":1,"d":178.79,"v":2105.9,"v2":2124.5},{"g":1,"d":180.46,"v":2103.3,"v2":2128.5},{"g":1,"d":181.71,"v":2100.6,"v2":2132.5},{"g":1,"d":182.96,"v":2104.6,"v2":2131.2},{"g":1,"d":184.21,"v":2107.3,"v2":2123.2},{"g":1,"d":185.46,"v":2104.6,"v2":2124.5},{"g":1,"d":186.29,"v":2108.6,"v2":2128.5},{"g":1,"d":187.54,"v":2112.6,"v2":2131.2},{"g":1,"d":188.79,"v":2110,"v2":2129.9},{"g":1,"d":189.83,"v":2108.6,"v2":2129.9},{"g":1,"d":190.4,"v":2110,"v2":2128}],
"d_seg": [{"d":114.9,"d2":118.0,"v":2081.4,"c":"r"},{"d":123.25,"d2":126.5,"v":2081.4,"c":"r"}],
"d_lab": [{"d":116.2,"v":2081.4,"t":"7","c":"r"},{"d":123.7,"v":2081.4,"t":"8","c":"r"}]
},
"spacing": 4,
"vconcat": [
{
 "width": 712, "height": 345,
 "encoding": {
  "x": {"field": "d", "type": "quantitative", "scale": {"domain": [-4.6, 112.3], "nice": false, "zero": false}, "axis": {"values": [0, 31, 59, 90], "labels": false, "grid": true, "title": null, "minExtent": 8, "maxExtent": 8}},
  "y": {"field": "v", "type": "quantitative", "scale": {"domain": [1470, 1590], "nice": false, "zero": false}, "axis": {"orient": "right", "values": [1480,1490,1500,1510,1520,1530,1540,1550,1560,1570,1580], "format": "d", "labelExpr": "datum.value % 20 == 0 ? datum.label : ''", "title": "Уровень моря, см"}}
 },
 "layer": [
  {"data": {"name": "a_env"}, "mark": {"type": "area", "color": "#5ec4dc", "clip": true}, "encoding": {"y2": {"field": "v2"}, "detail": {"field": "g", "type": "nominal"}}},
  {"data": {"name": "a_mid"}, "mark": {"type": "line", "color": "#5ec4dc", "strokeWidth": 7, "clip": true}},
  {"data": {"name": "a_mid"}, "mark": {"type": "line", "color": "#0c4a9c", "strokeWidth": 3.2, "clip": true}},
  {"data": {"name": "a_seg"}, "mark": {"type": "rule", "strokeWidth": 3.5}, "encoding": {"x2": {"field": "d2"}, "color": {"field": "c", "type": "nominal", "scale": {"domain": ["r", "k"], "range": ["#e3241b", "#111111"]}, "legend": null}}},
  {"data": {"name": "a_lab"}, "mark": {"type": "text", "fontSize": 16, "dy": 14, "baseline": "middle"}, "encoding": {"text": {"field": "t"}, "color": {"field": "c", "type": "nominal", "scale": {"domain": ["r", "k"], "range": ["#e3241b", "#111111"]}, "legend": null}}},
  {"data": {"values": [{"d": 3.1, "v": 1583.8, "t": "Прибор 86, 2019"}]}, "mark": {"type": "text", "align": "left", "baseline": "middle", "fontSize": 21, "color": "#222222"}, "encoding": {"text": {"field": "t"}}},
  {"data": {"values": [{"d": 108.5, "v": 1583.5, "t": "а"}]}, "mark": {"type": "text", "font": "Liberation Serif", "fontSize": 30, "baseline": "middle", "color": "#111111"}, "encoding": {"text": {"field": "t"}}}
 ]
},
{
 "width": 712, "height": 343,
 "encoding": {
  "x": {"field": "d", "type": "quantitative", "scale": {"domain": [-4.6, 112.1], "nice": false, "zero": false}, "axis": {"values": [0, 31, 60, 91], "labels": false, "grid": true, "title": null, "minExtent": 7, "maxExtent": 7}},
  "y": {"field": "v", "type": "quantitative", "scale": {"domain": [2059, 2180], "nice": false, "zero": false}, "axis": {"orient": "right", "values": [2060,2070,2080,2090,2100,2110,2120,2130,2140,2150,2160,2170], "format": "d", "labelExpr": "datum.value % 20 == 0 ? datum.label : ''", "title": "Уровень моря, см"}}
 },
 "layer": [
  {"data": {"name": "b_env"}, "mark": {"type": "area", "color": "#5ec4dc", "clip": true}, "encoding": {"y2": {"field": "v2"}, "detail": {"field": "g", "type": "nominal"}}},
  {"data": {"name": "b_mid"}, "mark": {"type": "line", "color": "#5ec4dc", "strokeWidth": 7, "clip": true}},
  {"data": {"name": "b_mid"}, "mark": {"type": "line", "color": "#0c4a9c", "strokeWidth": 3.2, "clip": true}},
  {"data": {"name": "b_seg"}, "mark": {"type": "rule", "strokeWidth": 3.5}, "encoding": {"x2": {"field": "d2"}, "color": {"field": "c", "type": "nominal", "scale": {"domain": ["r", "k"], "range": ["#e3241b", "#111111"]}, "legend": null}}},
  {"data": {"name": "b_lab"}, "mark": {"type": "text", "fontSize": 16, "dy": 15, "baseline": "middle"}, "encoding": {"text": {"field": "t"}, "color": {"field": "c", "type": "nominal", "scale": {"domain": ["r", "k"], "range": ["#e3241b", "#111111"]}, "legend": null}}},
  {"data": {"values": [{"d": 10.3, "v": 2174.4, "t": "Прибор 141, 2020"}]}, "mark": {"type": "text", "align": "left", "baseline": "middle", "fontSize": 21, "color": "#222222"}, "encoding": {"text": {"field": "t"}}},
  {"data": {"values": [{"d": 108.5, "v": 2173.8, "t": "б"}]}, "mark": {"type": "text", "font": "Liberation Serif", "fontSize": 30, "baseline": "middle", "color": "#111111"}, "encoding": {"text": {"field": "t"}}}
 ]
},
{
 "width": 712, "height": 344,
 "encoding": {
  "x": {"field": "d", "type": "quantitative", "scale": {"domain": [-4.0, 110.45], "nice": false, "zero": false}, "axis": {"values": [0, 12.4, 31, 42.4, 59, 72.7, 90, 99.7], "grid": true, "title": null, "minExtent": 39, "maxExtent": 39, "labelFontSize": 22, "labelPadding": 3, "labelColor": "#222222", "labelExpr": "datum.value == 12.4 ? 'Январь' : datum.value == 42.4 ? 'Февраль' : datum.value == 72.7 ? 'Март' : datum.value == 99.7 ? 'Апрель' : ''", "tickOpacity": {"condition": {"test": "indexof([0,31,59,90], datum.value) >= 0", "value": 1}, "value": 0}, "gridOpacity": {"condition": {"test": "indexof([0,31,59,90], datum.value) >= 0", "value": 1}, "value": 0}}},
  "y": {"field": "v", "type": "quantitative", "scale": {"domain": [1530, 1639], "nice": false, "zero": false}, "axis": {"orient": "right", "values": [1540,1550,1560,1570,1580,1590,1600,1610,1620,1630], "format": "d", "labelExpr": "datum.value % 20 == 0 ? datum.label : ''", "title": "Уровень моря, см"}}
 },
 "layer": [
  {"data": {"name": "c_env"}, "mark": {"type": "area", "color": "#5ec4dc", "clip": true}, "encoding": {"y2": {"field": "v2"}, "detail": {"field": "g", "type": "nominal"}}},
  {"data": {"name": "c_mid"}, "mark": {"type": "line", "color": "#5ec4dc", "strokeWidth": 7, "clip": true}},
  {"data": {"name": "c_mid"}, "mark": {"type": "line", "color": "#0c4a9c", "strokeWidth": 3.2, "clip": true}},
  {"data": {"name": "c_seg"}, "mark": {"type": "rule", "strokeWidth": 3.5}, "encoding": {"x2": {"field": "d2"}, "color": {"field": "c", "type": "nominal", "scale": {"domain": ["r", "k"], "range": ["#e3241b", "#111111"]}, "legend": null}}},
  {"data": {"name": "c_lab"}, "mark": {"type": "text", "fontSize": 16, "dy": 14, "baseline": "middle"}, "encoding": {"text": {"field": "t"}, "color": {"field": "c", "type": "nominal", "scale": {"domain": ["r", "k"], "range": ["#e3241b", "#111111"]}, "legend": null}}},
  {"data": {"values": [{"d": 2.1, "v": 1633.9, "t": "Прибор 136, 2021"}]}, "mark": {"type": "text", "align": "left", "baseline": "middle", "fontSize": 21, "color": "#222222"}, "encoding": {"text": {"field": "t"}}},
  {"data": {"values": [{"d": 104.2, "v": 1633, "t": "в"}]}, "mark": {"type": "text", "font": "Liberation Serif", "fontSize": 30, "baseline": "middle", "color": "#111111"}, "encoding": {"text": {"field": "t"}}}
 ]
},
{
 "width": 712, "height": 342,
 "encoding": {
  "x": {"field": "d", "type": "quantitative", "scale": {"domain": [101.1, 190.2], "nice": false, "zero": false}, "axis": {"values": [109.75, 121, 133.25, 152, 164.25, 182], "grid": true, "title": null, "labelFontSize": 22, "labelPadding": 3, "labelColor": "#222222", "labelExpr": "datum.value == 109.75 ? 'Апрель' : datum.value == 133.25 ? 'Май' : datum.value == 164.25 ? 'Июнь' : ''", "tickOpacity": {"condition": {"test": "indexof([121,152,182], datum.value) >= 0", "value": 1}, "value": 0}, "gridOpacity": {"condition": {"test": "indexof([121,152,182], datum.value) >= 0", "value": 1}, "value": 0}}},
  "y": {"field": "v", "type": "quantitative", "scale": {"domain": [2044, 2180], "nice": false, "zero": false}, "axis": {"orient": "right", "values": [2050,2060,2070,2080,2090,2100,2110,2120,2130,2140,2150,2160,2170], "format": "d", "labelExpr": "datum.value % 20 == 0 ? datum.label : ''", "title": "Уровень моря, см"}}
 },
 "layer": [
  {"data": {"name": "d_env"}, "mark": {"type": "area", "color": "#5ec4dc", "clip": true}, "encoding": {"y2": {"field": "v2"}, "detail": {"field": "g", "type": "nominal"}}},
  {"data": {"name": "d_mid"}, "mark": {"type": "line", "color": "#0c4a9c", "strokeWidth": 3.2, "clip": true}},
  {"data": {"name": "d_seg"}, "mark": {"type": "rule", "strokeWidth": 3.5}, "encoding": {"x2": {"field": "d2"}, "color": {"field": "c", "type": "nominal", "scale": {"domain": ["r", "k"], "range": ["#e3241b", "#111111"]}, "legend": null}}},
  {"data": {"name": "d_lab"}, "mark": {"type": "text", "fontSize": 16, "dy": 15, "baseline": "middle"}, "encoding": {"text": {"field": "t"}, "color": {"field": "c", "type": "nominal", "scale": {"domain": ["r", "k"], "range": ["#e3241b", "#111111"]}, "legend": null}}},
  {"data": {"values": [{"d": 102.4, "v": 2175, "t": "Прибор 141, 2020"}]}, "mark": {"type": "text", "align": "left", "baseline": "middle", "fontSize": 21, "color": "#222222"}, "encoding": {"text": {"field": "t"}}},
  {"data": {"values": [{"d": 187.0, "v": 2174, "t": "г"}]}, "mark": {"type": "text", "font": "Liberation Serif", "fontSize": 30, "baseline": "middle", "color": "#111111"}, "encoding": {"text": {"field": "t"}}}
 ]
}
]
}
